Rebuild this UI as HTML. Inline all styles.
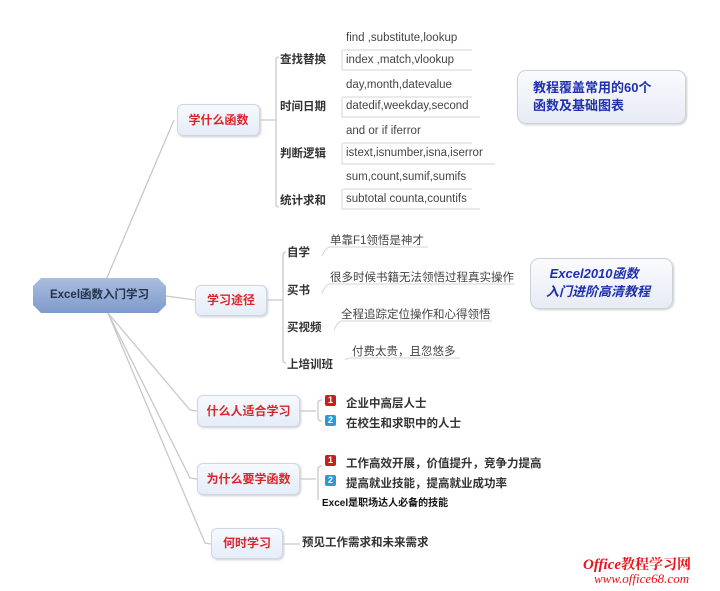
<!DOCTYPE html>
<html><head><meta charset="utf-8"><style>
body{margin:0;width:720px;height:591px;background:#fff;position:relative;overflow:hidden;font-family:"Liberation Sans","Noto Sans CJK SC",sans-serif;}
.a{position:absolute;white-space:nowrap;}
.n{position:absolute;box-sizing:border-box;border:1px solid #cdd6e4;border-radius:6px;background:linear-gradient(#f6f9fd,#e6edf8);color:#d9262b;font-weight:bold;font-size:12px;text-align:center;box-shadow:1px 1px 2px #ccc;}
.c{font-size:11.5px;color:#333;font-weight:bold;}
.l{font-size:11.5px;color:#444;}
.ic{position:absolute;width:11px;height:11px;border-radius:2px;color:#fff;font-size:9px;font-weight:bold;text-align:center;line-height:11px;}
</style></head><body>
<svg class="a" style="left:0;top:0" width="720" height="591">
<g fill="none" stroke="#c8c8c8" stroke-width="1.3">
<path d="M106 280 L174 120"/>
<path d="M166 296 L195 300"/>
<path d="M108 313 L190 410 L197 411"/>
<path d="M108 313 L190 478 L197 479"/>
<path d="M108 313 L205 543 L211 544"/>
<path d="M260 120 L276 120"/>
<path d="M279 57 Q276 57 276 60 L276 204 Q276 207 279 207"/>
<path d="M267 300 L283 300"/>
<path d="M286 252 Q283 252 283 255 L283 360 Q283 363 286 363"/>
<path d="M300 411 L316 411"/>
<path d="M322 400 Q318 400 318 403 L318 418 Q318 421 322 421"/>
<path d="M300 479 L316 479"/>
<path d="M322 466 Q318 466 318 469 L318 500"/>
<path d="M283 544 L300 544"/>
</g>
<g fill="none" stroke="#d4d4d4" stroke-width="1">
<path d="M343 50 L472 50 M342 50 L342 70 L472 70"/>
<path d="M343 97 L472 97 M342 97 L342 117 L480 117"/>
<path d="M343 143 L472 143 M342 143 L342 164 L495 164"/>
<path d="M343 189 L472 189 M342 189 L342 209 L480 209"/>
<path d="M322 256 Q326 247 330 247 L428 247"/>
<path d="M322 293 Q326 284 330 284 L515 284"/>
<path d="M334 330 Q338 321 342 321 L492 321"/>
<path d="M345 360 Q348 358 350 358 L460 358"/>
</g>
</svg>
<div class="a" style="left:33px;top:278px;width:133px;height:35px;background:linear-gradient(#a9bedf,#7f9bcb);clip-path:polygon(8px 0,125px 0,133px 8px,133px 27px,125px 35px,8px 35px,0 27px,0 8px);color:#24324a;font-weight:bold;font-size:11.5px;text-align:center;line-height:35px;">Excel函数入门学习</div>
<div class="n" style="left:177px;top:104px;width:83px;height:32px;line-height:30px;">学什么函数</div>
<div class="n" style="left:195px;top:285px;width:72px;height:31px;line-height:29px;">学习途径</div>
<div class="n" style="left:197px;top:395px;width:103px;height:32px;line-height:30px;">什么人适合学习</div>
<div class="n" style="left:197px;top:463px;width:103px;height:32px;line-height:30px;">为什么要学函数</div>
<div class="n" style="left:211px;top:528px;width:72px;height:31px;line-height:29px;">何时学习</div>
<div class="a c" style="left:280px;top:51px">查找替换</div>
<div class="a c" style="left:280px;top:98px">时间日期</div>
<div class="a c" style="left:280px;top:145px">判断逻辑</div>
<div class="a c" style="left:280px;top:192px">统计求和</div>
<div class="a l" style="left:346px;top:32px">find ,substitute,lookup</div>
<div class="a l" style="left:346px;top:54px">index ,match,vlookup</div>
<div class="a l" style="left:346px;top:79px">day,month,datevalue</div>
<div class="a l" style="left:346px;top:100px">datedif,weekday,second</div>
<div class="a l" style="left:346px;top:125px">and or if iferror</div>
<div class="a l" style="left:346px;top:147px">istext,isnumber,isna,iserror</div>
<div class="a l" style="left:346px;top:171px">sum,count,sumif,sumifs</div>
<div class="a l" style="left:346px;top:193px">subtotal counta,countifs</div>
<div class="a c" style="left:287px;top:244px">自学</div>
<div class="a c" style="left:287px;top:282px">买书</div>
<div class="a c" style="left:287px;top:319px">买视频</div>
<div class="a c" style="left:287px;top:356px">上培训班</div>
<div class="a l" style="left:330px;top:232px">单靠F1领悟是神才</div>
<div class="a l" style="left:330px;top:269px">很多时候书籍无法领悟过程真实操作</div>
<div class="a l" style="left:341px;top:306px">全程追踪定位操作和心得领悟</div>
<div class="a l" style="left:352px;top:343px">付费太贵，且忽悠多</div>
<div class="a" style="left:517px;top:70px;width:169px;height:54px;box-sizing:border-box;border:1px solid #ccd2dc;border-radius:9px;background:linear-gradient(#fafbfe,#e7ebf4);box-shadow:1px 1px 2px #ccc;"></div>
<div class="a" style="left:533px;top:79px;color:#1f2fb0;font-weight:bold;font-size:13px;line-height:18px;">教程覆盖常用的60个<br>函数及基础图表</div>
<div class="a" style="left:530px;top:258px;width:143px;height:51px;box-sizing:border-box;border:1px solid #ccd2dc;border-radius:9px;background:linear-gradient(#fafbfe,#e7ebf4);box-shadow:1px 1px 2px #ccc;"></div>
<div class="a" style="left:546px;top:265px;color:#1f2fb0;font-weight:bold;font-style:italic;font-size:13px;line-height:18px;">&nbsp;Excel2010函数<br>入门进阶高清教程</div>
<div class="ic" style="left:325px;top:395px;background:#c8201e">1</div>
<div class="ic" style="left:325px;top:415px;background:#2a9ad6">2</div>
<div class="a c" style="left:346px;top:395px">企业中高层人士</div>
<div class="a c" style="left:346px;top:415px">在校生和求职中的人士</div>
<div class="ic" style="left:325px;top:455px;background:#c8201e">1</div>
<div class="ic" style="left:325px;top:475px;background:#2a9ad6">2</div>
<div class="a c" style="left:346px;top:455px">工作高效开展，价值提升，竞争力提高</div>
<div class="a c" style="left:346px;top:475px">提高就业技能，提高就业成功率</div>
<div class="a" style="left:322px;top:494px;font-size:10px;font-weight:bold;color:#111">Excel是职场达人必备的技能</div>
<div class="a c" style="left:302px;top:534px">预见工作需求和未来需求</div>
<div class="a" style="left:583px;top:554px;color:#e8141b;font-family:'Liberation Serif','Noto Serif CJK SC',serif;font-style:italic;font-size:15px;font-weight:bold;">Office<span style="font-style:normal;font-size:14px">教程学习网</span></div>
<div class="a" style="left:594px;top:571px;color:#e8141b;font-family:'Liberation Serif',serif;font-style:italic;font-size:13px;">www.office68.com</div>
</body></html>
